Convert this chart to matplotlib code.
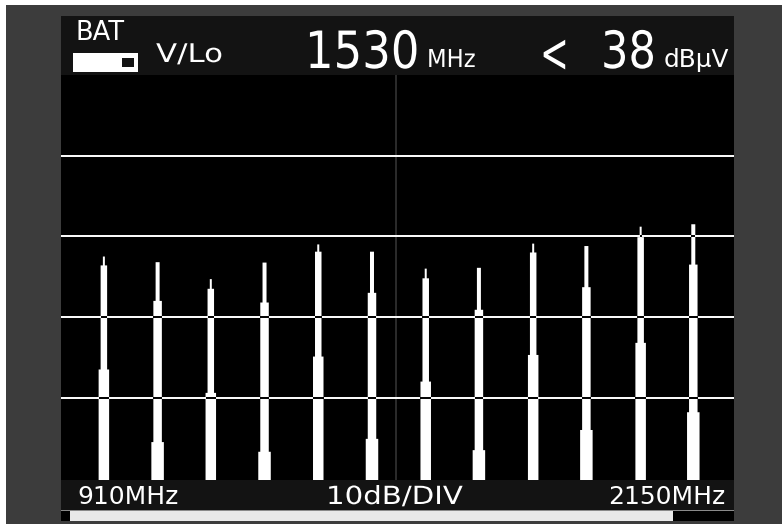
# -*- coding: utf-8 -*-
from matplotlib import pyplot as plt
from matplotlib.patches import Rectangle
from matplotlib.patheffects import AbstractPathEffect
from matplotlib.transforms import Affine2D

W, H = 782, 524

# carrier frequencies (MHz)
freqs = [989, 1088, 1186, 1285, 1384, 1483, 1582, 1680, 1780, 1878, 1978, 2075]
# levels in dBuV: peak of the tip, top of middle part, top of wide base
tip_top = [57.5, 56.8, 54.7, 56.75, 59.0, 58.1, 56.0, 56.1, 59.1, 58.8, 61.2, 61.5]
mid_top = [56.4, 52.0, 53.5, 51.8, 58.1, 53.0, 54.8, 50.9, 58.0, 53.7, 59.9, 56.5]
base_top = [43.5, 34.5, 40.6, 33.3, 45.1, 34.9, 42.0, 33.5, 45.3, 36.0, 46.8, 38.2]
grid_levels = [40, 50, 60, 70]

BOTTOM = 29.8


def px(n):
    # pixels to MHz
    return n * 1240 / 673


def widths(i):
    # odd and even carriers have different trace shapes
    if i % 2 == 0:
        return px(2), px(6.5), px(10.5)
    return px(4), px(8.5), px(12.5)


class StretchX(AbstractPathEffect):
    # the screen font is narrower/wider than DejaVu, so squeeze glyphs about x0
    def __init__(self, x0, sx):
        super().__init__()
        self.x0 = x0
        self.sx = sx

    def draw_path(self, renderer, gc, tpath, affine, rgbFace=None):
        t = Affine2D().translate(-self.x0, 0).scale(self.sx, 1).translate(self.x0, 0)
        renderer.draw_path(gc, tpath, affine + t, rgbFace)


fig = plt.figure(figsize=(W / 100, H / 100), dpi=100, facecolor='white')

# photo frame and screen parts, in figure pixels
back = fig.add_axes([0, 0, 1, 1], zorder=0)
back.set_xlim(0, W)
back.set_ylim(H, 0)
back.axis('off')
back.add_patch(Rectangle((6, 5), W - 6, H - 5, color='#3c3c3c', lw=0))
back.add_patch(Rectangle((61, 16), 673, 505, color='#131313', lw=0))
back.add_patch(Rectangle((61, 75), 673, 405, color='black', lw=0))
back.add_patch(Rectangle((61, 510), 673, 1, color='#8a8a8a', lw=0))
back.add_patch(Rectangle((61, 511), 673, 10, color='black', lw=0))
back.add_patch(Rectangle((70, 511), 603, 10, color='#e9e9e9', lw=0))
# battery icon
back.add_patch(Rectangle((73, 53), 65, 19, color='white', lw=0))
back.add_patch(Rectangle((122, 58), 12, 9, color='#131313', lw=0))

# spectrum
ax = fig.add_axes([61 / W, (H - 480) / H, 673 / W, 405 / H], zorder=1)
ax.set_xlim(910, 2150)
ax.set_ylim(BOTTOM, 80)
ax.axis('off')

ax.axvline(1528, color='#333333', lw=1.2, zorder=1)

for i, f in enumerate(freqs):
    tip_w, mid_w, base_w = widths(i)
    ax.bar(f, tip_top[i] - BOTTOM, tip_w, bottom=BOTTOM, color='white', lw=0, zorder=2, snap=False)
    ax.bar(f, mid_top[i] - BOTTOM, mid_w, bottom=BOTTOM, color='white', lw=0, zorder=2, snap=False)
    ax.bar(f, base_top[i] - BOTTOM, base_w, bottom=BOTTOM, color='white', lw=0, zorder=2, snap=False)

for g in grid_levels:
    ax.axhline(g, color='white', lw=1.4, zorder=3)
    # the display inverts the grid where it crosses a carrier
    for i, f in enumerate(freqs):
        tip_w, mid_w, base_w = widths(i)
        if g <= base_top[i]:
            w = base_w
        elif g <= mid_top[i]:
            w = mid_w
        elif g <= tip_top[i]:
            w = tip_w
        else:
            continue
        ax.plot([f - w / 2, f + w / 2], [g, g], color='black', lw=1.4,
                solid_capstyle='butt', zorder=4)

# texts on top
frame = fig.add_axes([0, 0, 1, 1], zorder=2)
frame.set_xlim(0, W)
frame.set_ylim(H, 0)
frame.axis('off')


def label(x, y, s, size, sx=1.0):
    t = frame.text(x, y, s, color='white', fontsize=size, ha='left', va='baseline')
    if sx != 1.0:
        t.set_path_effects([StretchX(x, sx)])


label(75, 40, 'BAT', 18.5)
label(156, 62, 'V/Lo', 18.5, 1.2)
label(305, 68, '1530', 37, 0.875)
label(427, 67, 'MHz', 17.8, 0.92)
label(540, 72, '<', 40, 0.62)
label(601, 68, '38', 37, 0.84)
label(664, 67, 'dBµV', 17.8)
label(77, 504, '910MHz', 18)
label(326, 504, '10dB/DIV', 18, 1.17)
label(608, 504, '2150MHz', 18)

plt.savefig('out.png', dpi=100, facecolor='white')
